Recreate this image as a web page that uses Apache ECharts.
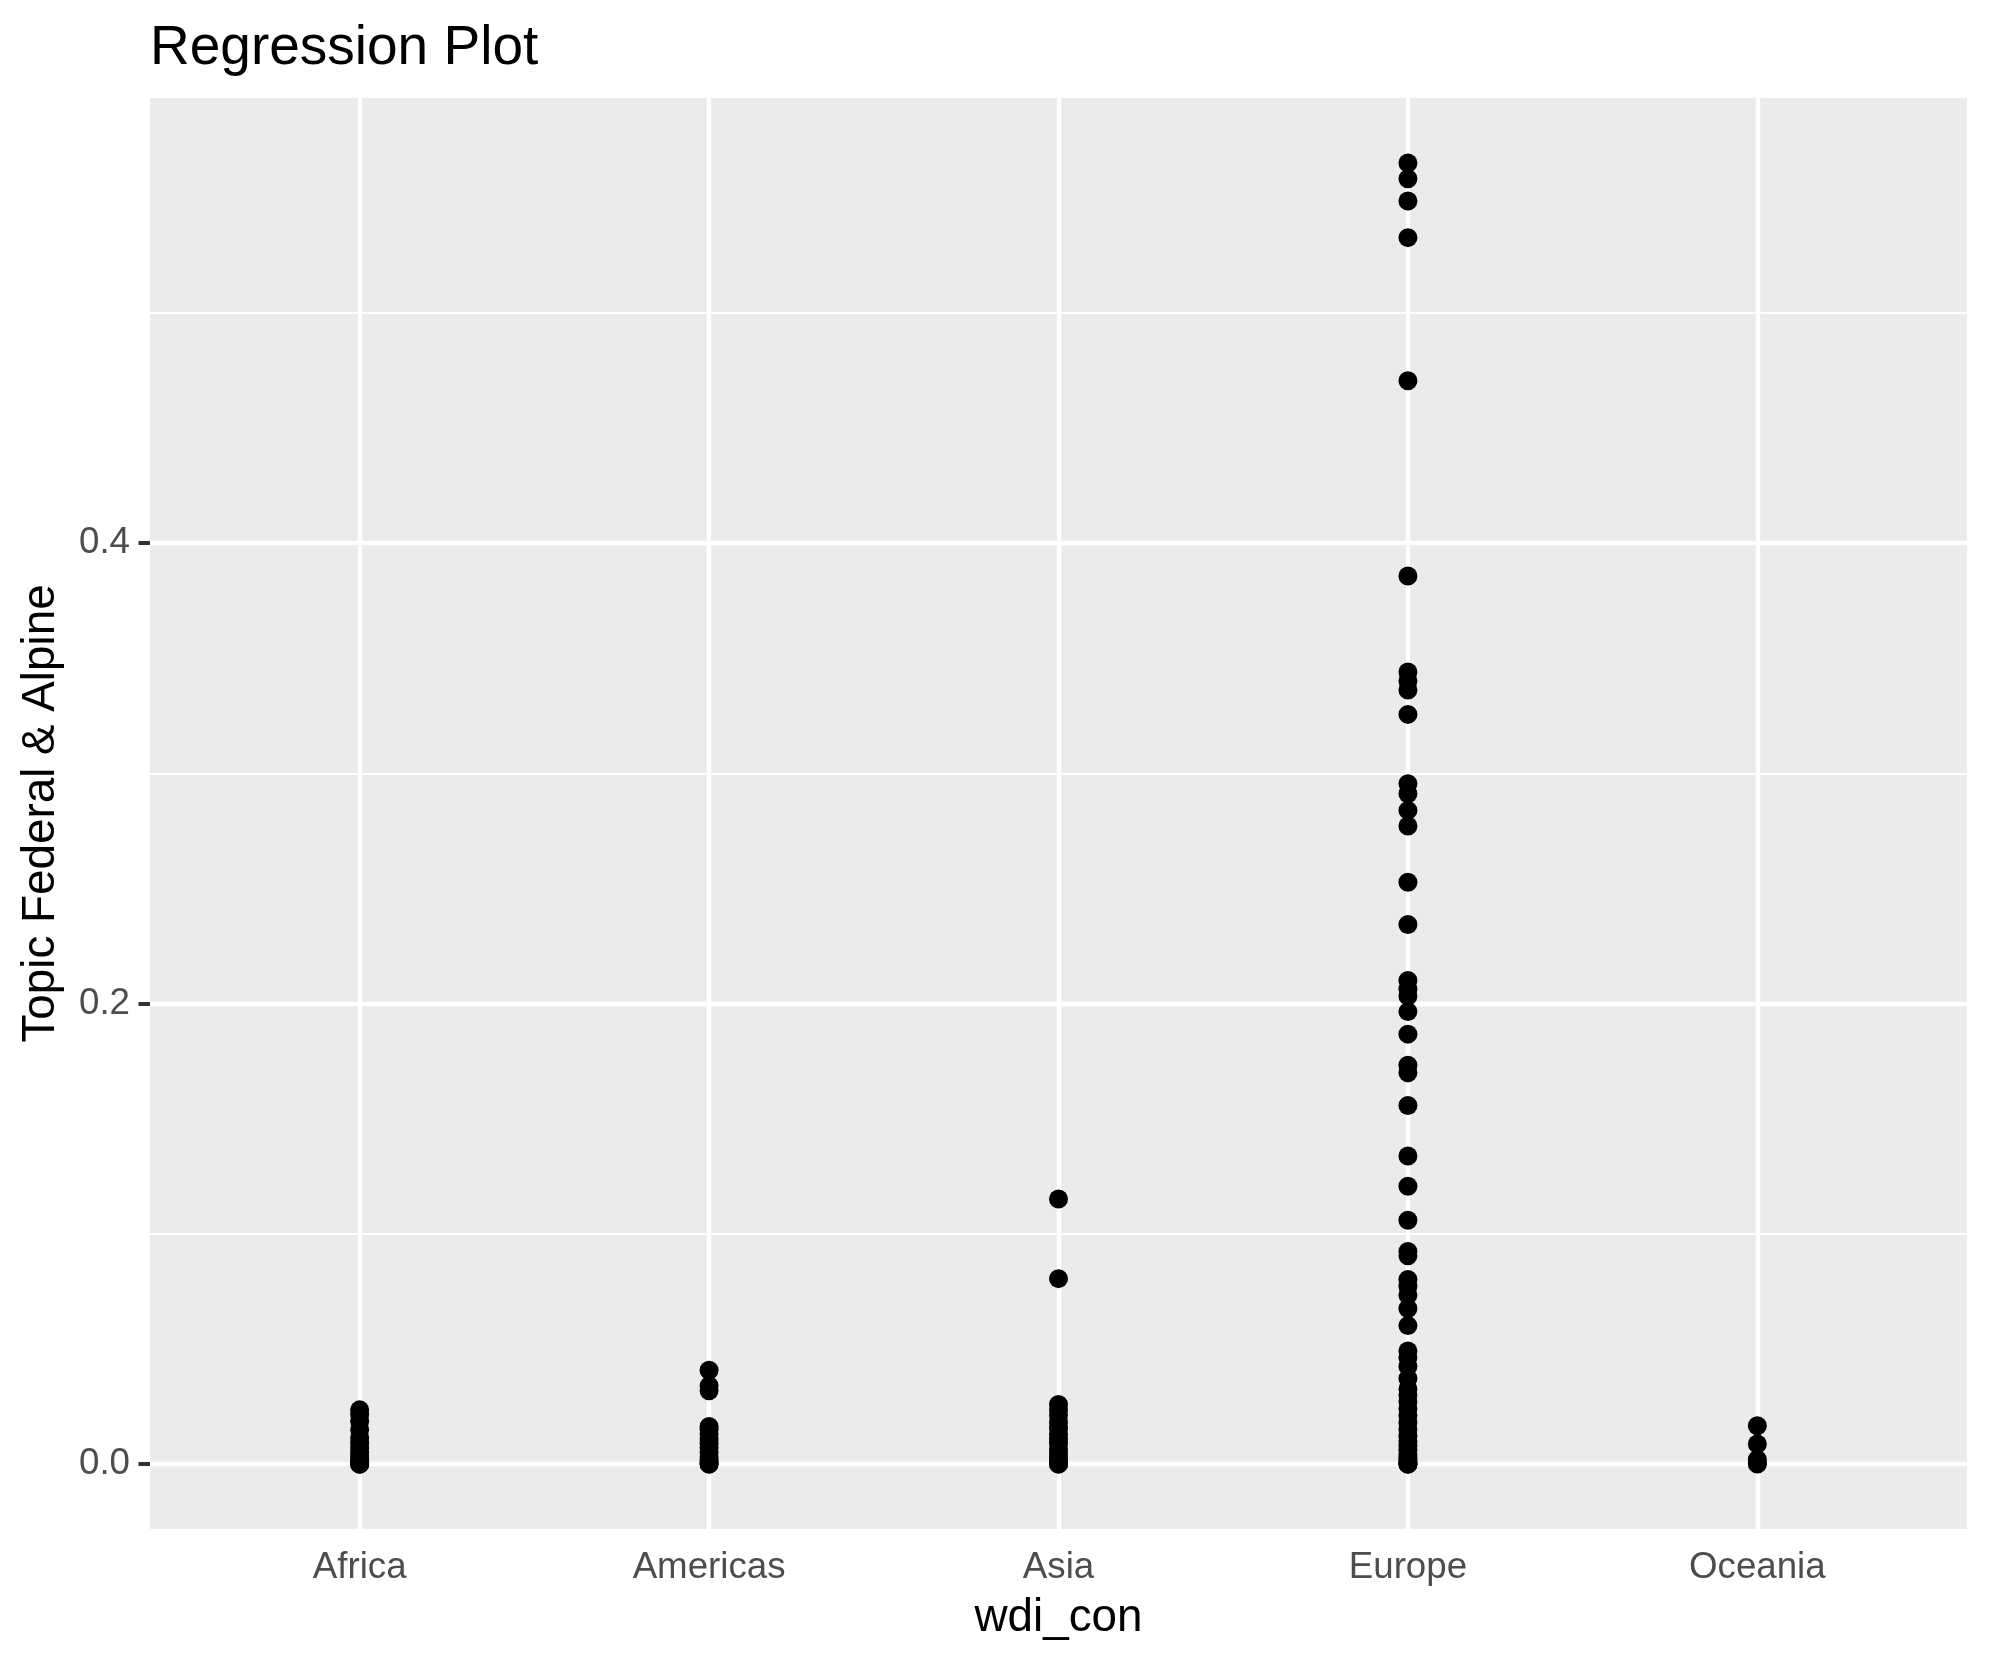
<!DOCTYPE html>
<html>
<head>
<meta charset="utf-8">
<script src="https://cdn.jsdelivr.net/npm/echarts@6/dist/echarts.min.js"></script>
<style>
html,body{margin:0;padding:0;background:#fff;}
#chart{width:1990px;height:1665px;}
</style>
</head>
<body>
<div id="chart"></div>
<script>
const categories = ["Africa", "Americas", "Asia", "Europe", "Oceania"];
const africa = [0.0235, 0.0215, 0.0185, 0.0149, 0.0114, 0.009, 0.007, 0.005, 0.0035, 0.002, 0.001, 0.0005, 0, 0, 0];
const americas = [0.0407, 0.034, 0.0318, 0.0163, 0.015, 0.013, 0.011, 0.009, 0.007, 0.005, 0.003, 0.0015, 0.0005, 0, 0];
const asia = [0.1151, 0.0805, 0.0258, 0.0235, 0.021, 0.018, 0.0155, 0.013, 0.011, 0.009, 0.0065, 0.0045, 0.0025, 0.001, 0, 0];
const europe = [0.5651, 0.5583, 0.5486, 0.5327, 0.4705, 0.3857, 0.344, 0.3401, 0.3362, 0.3256,
  0.2955, 0.2911, 0.2839, 0.2771, 0.2527, 0.2343, 0.21, 0.2062, 0.2033, 0.1965, 0.1867,
  0.1732, 0.1699, 0.1557, 0.1338, 0.1206, 0.1059, 0.0923, 0.0904, 0.0801, 0.0772, 0.0734,
  0.0675, 0.0601, 0.0491, 0.0462, 0.0423, 0.0371, 0.0326, 0.03, 0.027, 0.024, 0.021, 0.018,
  0.015, 0.012, 0.01, 0.008, 0.006, 0.004, 0.003, 0.002, 0.001, 0.0005, 0, 0, 0];
const oceania = [0.0166, 0.0087, 0.0019, 0.0005, 0];
const yTicks = [0, 0.2, 0.4];
const yMinor = [0.1, 0.3, 0.5];
const yTickLabels = ["0.0", "0.2", "0.4"];

const groups = [africa, americas, asia, europe, oceania];
const points = [];
groups.forEach((g, i) => g.forEach(v => points.push([i + 1, v])));

const yMaxData = Math.max(...europe);
const yMin = -0.05 * yMaxData;
const yMax = yMaxData * 1.05;
const xPos = categories.map((c, i) => i + 1);

const FONT = "Liberation Sans";
const gridLines = [];
yTicks.forEach(v => gridLines.push({yAxis: v, lineStyle: {width: 4.4}}));
yMinor.forEach(v => gridLines.push({yAxis: v, lineStyle: {width: 2.2}}));
xPos.forEach(v => gridLines.push({xAxis: v, lineStyle: {width: 4.4}}));

const chart = echarts.init(document.getElementById('chart'), null, {renderer: 'canvas'});
chart.setOption({
  animation: false,
  title: {
    text: "Regression Plot",
    left: 150, top: 21, padding: 0,
    textStyle: {fontFamily: FONT, fontSize: 55, fontWeight: 'normal', color: '#000'}
  },
  grid: {
    left: 150, right: 23, top: 98, bottom: 136,
    show: true, backgroundColor: '#EBEBEB', borderWidth: 0
  },
  xAxis: {
    type: 'value', min: 0.4, max: 5.6,
    name: 'wdi_con', nameLocation: 'middle', nameGap: 66,
    nameTextStyle: {fontFamily: FONT, fontSize: 45.8, color: '#000'},
    axisLine: {show: false},
    axisTick: {show: true, length: 11.5, customValues: xPos, lineStyle: {color: '#333333', width: 4}},
    axisLabel: {
      customValues: xPos, margin: 20,
      fontFamily: FONT, fontSize: 36.7, color: '#4D4D4D',
      formatter: v => categories[Math.round(v) - 1] || ''
    },
    splitLine: {show: false}
  },
  yAxis: {
    type: 'value', min: yMin, max: yMax,
    name: 'Topic Federal & Alpine', nameLocation: 'middle', nameGap: 86,
    nameTextStyle: {fontFamily: FONT, fontSize: 45.8, color: '#000'},
    axisLine: {show: false},
    axisTick: {show: true, length: 11.5, customValues: yTicks, lineStyle: {color: '#333333', width: 4}},
    axisLabel: {
      customValues: yTicks, margin: 20,
      fontFamily: FONT, fontSize: 36.7, color: '#4D4D4D',
      formatter: v => yTickLabels[yTicks.findIndex(t => Math.abs(t - v) < 1e-9)] || ''
    },
    splitLine: {show: false}
  },
  series: [{
    type: 'scatter',
    data: points,
    symbol: 'circle',
    symbolSize: 19,
    itemStyle: {color: '#000', opacity: 1},
    z: 3,
    markLine: {
      silent: true, z: 1,
      symbol: ['none', 'none'],
      label: {show: false},
      lineStyle: {color: '#FFFFFF', type: 'solid', opacity: 1},
      emphasis: {disabled: true},
      data: gridLines
    }
  }]
});
</script>
</body>
</html>
